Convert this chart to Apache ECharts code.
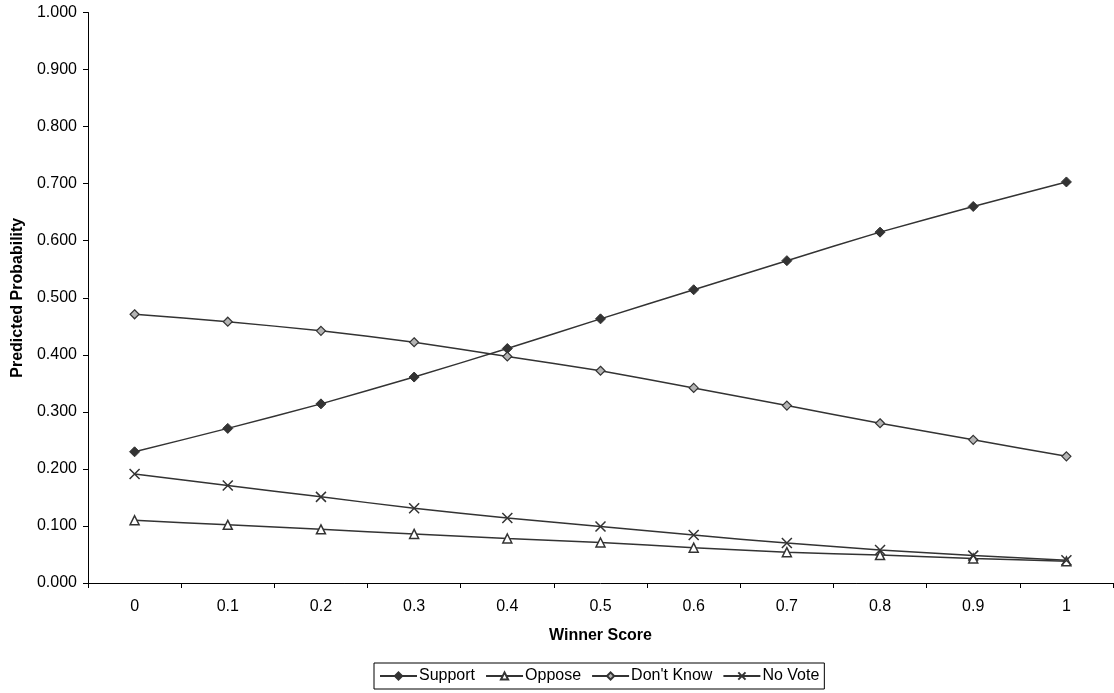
<!DOCTYPE html>
<html>
<head>
<meta charset="utf-8">
<script src="https://cdn.jsdelivr.net/npm/echarts@6/dist/echarts.min.js"></script>
<style>
html,body{margin:0;padding:0;background:#fff;}
#chart{width:1114px;height:693px;}
</style>
</head>
<body>
<div id="chart"></div>
<script>
const categories = ['0','0.1','0.2','0.3','0.4','0.5','0.6','0.7','0.8','0.9','1'];
const support  = [0.230,0.271,0.314,0.361,0.411,0.463,0.514,0.565,0.615,0.660,0.703];
const oppose   = [0.110,0.102,0.094,0.086,0.078,0.071,0.062,0.054,0.049,0.043,0.038];
const dontKnow = [0.471,0.458,0.442,0.422,0.397,0.372,0.342,0.311,0.280,0.251,0.222];
const noVote   = [0.191,0.171,0.151,0.131,0.114,0.099,0.084,0.070,0.058,0.048,0.040];
const seriesNames = ['Support','Oppose',"Don't Know",'No Vote'];

const chart = echarts.init(document.getElementById('chart'));
const lineColor = '#333333';
const font = 'Liberation Sans, Arial, sans-serif';
const xSym = 'path://M0,0L10,10M10,0L0,10';

function mk(name, data, symbol, size, fill, bw) {
  return {
    name: name, type: 'line', data: data, smooth: 0.2,
    symbol: symbol, symbolSize: size,
    lineStyle: {color: lineColor, width: 1.5},
    itemStyle: {color: fill, borderColor: lineColor, borderWidth: bw},
    emphasis: {disabled: true}
  };
}

chart.setOption({
  animation: false,
  backgroundColor: '#ffffff',
  textStyle: {fontFamily: font},
  grid: {left: 88, right: 1, top: 12.5, bottom: 110, containLabel: false},
  legend: {
    top: 663, left: 374,
    itemWidth: 37, itemHeight: 9, itemGap: 10,
    padding: [5, 5, 5, 5],
    borderColor: '#000', borderWidth: 1,
    textStyle: {fontSize: 16, color: '#000', fontFamily: font, padding: [0, 0, 0, -3]},
    data: seriesNames
  },
  xAxis: {
    type: 'category', data: categories, boundaryGap: true,
    name: 'Winner Score', nameLocation: 'middle', nameGap: 45,
    nameTextStyle: {fontWeight: 'bold', fontSize: 16, color: '#000'},
    axisLine: {lineStyle: {color: '#000', width: 1}},
    axisTick: {show: true, length: 5, lineStyle: {color: '#000'}},
    axisLabel: {fontSize: 16, color: '#000', margin: 16},
    splitLine: {show: false}
  },
  yAxis: {
    type: 'value', min: 0, max: 1, interval: 0.1,
    name: 'Predicted Probability', nameLocation: 'middle', nameGap: 62,
    nameTextStyle: {fontWeight: 'bold', fontSize: 16, color: '#000'},
    axisLine: {show: true, lineStyle: {color: '#000', width: 1}},
    axisTick: {show: true, length: 5, lineStyle: {color: '#000'}},
    axisLabel: {fontSize: 16, color: '#000', margin: 11, formatter: v => v.toFixed(3)},
    splitLine: {show: false}
  },
  series: [
    mk('Support', support, 'diamond', 10, '#333333', 1),
    mk('Oppose', oppose, 'triangle', 9, '#ffffff', 1.5),
    mk("Don't Know", dontKnow, 'diamond', 9, '#b4b4b4', 1.2),
    mk('No Vote', noVote, xSym, 10, 'none', 1.5)
  ]
});
</script>
</body>
</html>
